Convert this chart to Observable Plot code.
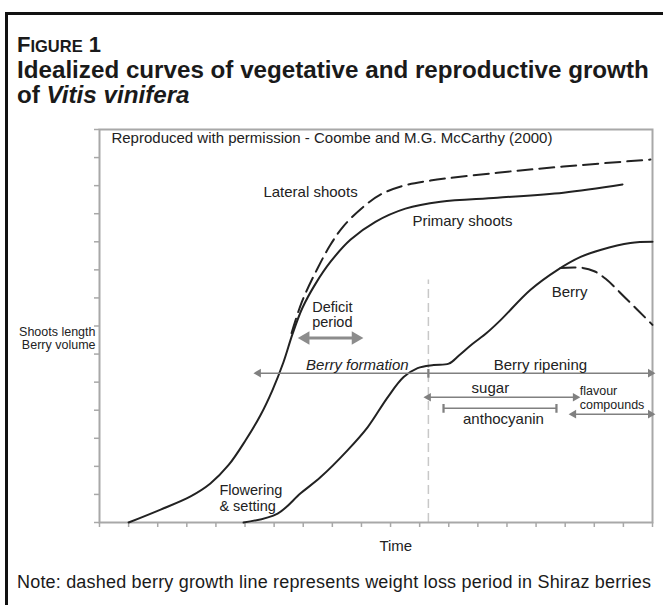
<!DOCTYPE html>
<html><head><meta charset="utf-8">
<script src="https://cdn.jsdelivr.net/npm/d3@7"></script>
<script src="https://cdn.jsdelivr.net/npm/@observablehq/plot@0.6"></script>
<style>
body{margin:0;overflow:hidden;background:#fff;font-family:"Liberation Sans",Arial,sans-serif;color:#1a1a1a;}
#wrap{position:relative;width:663px;height:605px;overflow:hidden;}
#box{position:absolute;left:5px;top:12px;width:720px;height:720px;border:3px solid #111;box-sizing:border-box;}
#chart{position:absolute;left:0;top:0;}
.t{position:absolute;left:17px;font-weight:bold;white-space:nowrap;color:#1a1a1a;line-height:1;}
#fig{top:34px;font-size:22px;}
#fig small{font-size:16.5px;}
#t1{top:58px;font-size:24.2px;}
#t2{top:83px;font-size:24.2px;}
#note{position:absolute;left:17px;top:573px;font-size:18px;line-height:1;white-space:nowrap;letter-spacing:0.19px;}
</style></head>
<body>
<div id="wrap">
<div id="box"></div>
<div id="chart"></div>
<div class="t" id="fig">F<small>IGURE</small> 1</div>
<div class="t" id="t1">Idealized curves of vegetative and reproductive growth</div>
<div class="t" id="t2">of <i>Vitis vinifera</i></div>
<div id="note">Note: dashed berry growth line represents weight loss period in Shiraz berries</div>
</div>
<script>
// ---- data (time units, relative length/volume units) ----
const timeTicks = d3.range(0, 20);
const valueTicks = d3.range(0, 15);

const primaryTime = [1.0, 2.1, 3.13, 3.81, 4.43, 5.02, 5.53, 5.94, 6.32, 6.63, 6.97, 7.42, 7.94, 8.62, 9.48, 10.51, 11.72, 13.67, 15.94, 17.97];
const primaryLen  = [0,   0.46, 0.93, 1.39, 2.04, 2.93, 3.82, 4.71, 5.71, 6.71, 7.64, 8.5, 9.29, 10.07, 10.71, 11.18, 11.43, 11.57, 11.75, 12.04];

const lateralTime = [6.6, 6.95, 7.49, 7.94, 8.38, 9.07, 9.65, 10.45, 11.37, 13.67, 15.94, 18.93];
const lateralLen  = [6.75, 7.85, 9.05, 9.9, 10.55, 11.25, 11.68, 12.0, 12.18, 12.46, 12.68, 12.93];

const berryTime = [4.95, 6.12, 6.91, 7.59, 8.52, 9.21, 9.9, 10.45, 10.93, 11.48, 12.0, 12.35, 12.8, 13.3, 13.78, 14.81, 15.74, 16.53, 17.21, 18.24, 19.0];
const berryVol  = [0,    0.32, 1.04, 1.61, 2.57, 3.39, 4.46, 5.18, 5.5,  5.61,  5.66,  5.95,  6.35,  6.75,  7.21,  8.29,  9.0,   9.46,  9.71,  9.96,  10.0];

const shirazTime = [15.84, 16.6, 17.0, 17.39, 18.07, 19.0];
const shirazVol  = [9.07,  9.07, 8.95, 8.68,  8.0,   7.04];

const veraisonTime = 11.3;

const phaseNames = ["Berry formation", "Berry ripening", "sugar", "anthocyanin", "flavour\ncompounds"];
const phaseStart = [5.46, 11.3, 11.3, 11.82, 16.29];
const phaseEnd   = [11.3, 18.93, 16.35, 15.7, 18.93];

const deficitStart = 7.08, deficitEnd = 8.8;

const rows = (xs, ys) => xs.map((x, i) => ({x, y: ys[i]}));

const ink = "#222";
const axisGray = "#a8a8a8";
const barGray = "#808080";
const fs = 15;

// arrowhead helpers built from the phase arrays
const bar = (i, y, opts) => Plot.link([{x1: phaseStart[i], x2: phaseEnd[i]}], {x1: "x1", x2: "x2", y1: y, y2: y, stroke: barGray, strokeWidth: 1.5, ...opts});
const head = (x, y, dir, r = 3.2, fill = barGray) => Plot.dot([{x, y}], {x: "x", y: "y", symbol: "triangle", r, fill, stroke: "none", rotate: dir === "right" ? 90 : -90});

const plot = Plot.plot({
  width: 663, height: 605,
  marginLeft: 99, marginRight: 11, marginTop: 129, marginBottom: 83,
  x: {domain: [0, 19]},
  y: {domain: [0, 14]},
  style: {fontFamily: "'Liberation Sans', Arial, sans-serif", background: "transparent", color: ink},
  marks: [
    Plot.ruleX([veraisonTime], {y1: 0, y2: 8.64, stroke: "#c8c8c8", strokeWidth: 1.5, strokeDasharray: "9,5"}),
    Plot.frame({stroke: axisGray, strokeWidth: 2}),
    Plot.axisX({ticks: timeTicks, tickSize: 5, tickFormat: () => "", stroke: axisGray, strokeWidth: 1.5, label: null}),
    Plot.axisY({ticks: valueTicks, tickSize: 5, tickFormat: () => "", stroke: axisGray, strokeWidth: 1.5, label: null}),

    // curves
    Plot.line(rows(primaryTime, primaryLen), {x: "x", y: "y", curve: "catmull-rom", stroke: ink, strokeWidth: 2}),
    Plot.line(rows(lateralTime, lateralLen), {x: "x", y: "y", curve: "catmull-rom", stroke: ink, strokeWidth: 2, strokeDasharray: "15,7"}),
    Plot.line(rows(berryTime, berryVol), {x: "x", y: "y", curve: "catmull-rom", stroke: ink, strokeWidth: 2}),
    Plot.line(rows(shirazTime, shirazVol), {x: "x", y: "y", curve: "catmull-rom", stroke: ink, strokeWidth: 2, strokeDasharray: "15,7"}),

    // phase bars
    bar(0, 5.32, {}), head(phaseStart[0], 5.32, "left"),
    bar(1, 5.32, {markerStart: "tick"}), head(phaseEnd[1], 5.32, "right"),
    bar(2, 4.46, {}), head(phaseStart[2], 4.46, "left"), head(phaseEnd[2], 4.46, "right"),
    bar(3, 4.07, {markerStart: "tick", markerEnd: "tick"}),
    bar(4, 3.86, {}), head(phaseStart[4], 3.86, "left"), head(phaseEnd[4], 3.86, "right"),
    Plot.link([{x1: deficitStart + 0.12, x2: deficitEnd - 0.12}], {x1: "x1", x2: "x2", y1: 6.57, y2: 6.57, stroke: "#8c8c8c", strokeWidth: 3}),
    head(deficitStart, 6.57, "left", 5, "#8c8c8c"), head(deficitEnd, 6.57, "right", 5, "#8c8c8c"),

    // labels
    Plot.text(["Reproduced with permission - Coombe and M.G. McCarthy (2000)"], {x: 0.41, y: 13.68, textAnchor: "start", fontSize: fs, fill: ink}),
    Plot.text(["Lateral shoots"], {x: 7.25, y: 11.75, fontSize: fs, fill: ink}),
    Plot.text(["Primary shoots"], {x: 12.47, y: 10.75, fontSize: fs, fill: ink}),
    Plot.text(["Berry"], {x: 16.15, y: 8.21, fontSize: fs, fill: ink}),
    Plot.text(["Deficit\nperiod"], {x: 8.0, y: 7.39, fontSize: 14.5, lineHeight: 1.0, fill: ink}),
    Plot.text([phaseNames[0]], {x: 8.86, y: 5.61, fontSize: fs, fontStyle: "italic", fill: ink}),
    Plot.text([phaseNames[1]], {x: 15.15, y: 5.61, fontSize: fs, fill: ink}),
    Plot.text([phaseNames[2]], {x: 13.43, y: 4.79, fontSize: fs, fill: ink}),
    Plot.text([phaseNames[3]], {x: 13.88, y: 3.68, fontSize: fs, fill: ink}),
    Plot.text([phaseNames[4]], {x: 16.5, y: 4.45, textAnchor: "start", fontSize: 12.5, lineHeight: 1.12, fill: ink}),
    Plot.text(["Flowering\n& setting"], {x: 4.12, y: 0.89, textAnchor: "start", fontSize: 14.5, lineHeight: 1.1, fill: ink}),
    Plot.text(["Shoots length\nBerry volume"], {x: 0, y: 6.55, dx: -4, textAnchor: "end", fontSize: 12.5, lineHeight: 1.0, fill: ink}),
    Plot.text(["Time"], {x: 10.18, y: 0, dy: 24, fontSize: fs, fill: ink})
  ]
});
document.getElementById("chart").appendChild(plot);
</script>
</body></html>
